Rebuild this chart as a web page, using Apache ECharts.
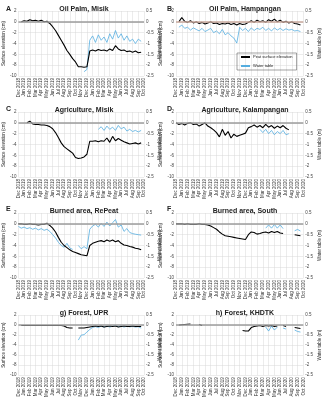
<!DOCTYPE html>
<html>
<head>
<meta charset="utf-8">
<script src="https://cdn.jsdelivr.net/npm/echarts@6/dist/echarts.min.js"></script>
<style>
  html, body { margin: 0; padding: 0; background: #fff; }
  #chart { width: 323px; height: 400px; }
</style>
</head>
<body>
<div id="chart"></div>
<script>
// x labels, one per month
const months = ['Dec 2018', 'Jan 2019', 'Feb 2019', 'Mar 2019', 'Apr 2019', 'May 2019', 'Jun 2019',
  'Jul 2019', 'Aug 2019', 'Sep 2019', 'Oct 2019', 'Nov 2019', 'Dec 2019', 'Jan 2020', 'Feb 2020',
  'Mar 2020', 'Apr 2020', 'May 2020', 'Jun 2020', 'Jul 2020', 'Aug 2020', 'Sep 2020', 'Oct 2020'];

// values sampled every half month from Dec 2018 (index 0) to Oct 2020 (index 44)
// peat surface elevation in cm, water table in m, null = no data
const peatA = [null, 0.0, 0.2, 0.1, 0.4, 0.2, 0.3, 0.1, 0.3, 0.0, 0.1, -0.3, -0.9, -1.6, -2.5, -3.4, -4.3, -5.3, -6.0, -6.8, -7.4, -8.3, -8.3, -8.4, -8.3,
  -5.4, -5.2, -5.4, -5.1, -5.3, -5.2, -5.4, -5.0, -5.3, -4.4, -5.0, -5.3, -5.2, -5.5, -5.4, -5.6, -5.4, -5.7, -5.6, null];
const waterA = [null, null, null, null, null, null, null, null, null, null, null, null, null, null, null, null, null, null, null, null, null, null, null, -2.3, -2.2,
  -0.85, -0.65, -0.95, -0.6, -0.85, -0.7, -0.95, -0.55, -0.8, -0.4, -0.75, -0.55, -0.85, -0.65, -0.9, -0.8, -1.0, -0.8, -0.9, null];

const peatB = [null, 0.0, 0.8, 0.1, -0.1, 0.2, -0.2, 0.0, -0.3, -0.1, -0.4, -0.2, 0.0, -0.3, -0.2, -0.5, -0.3, -0.4, -0.2, -0.5, -0.3, -0.6, -0.3, -0.5, -0.4,
  -0.1, 0.2, -0.1, 0.3, 0.0, 0.2, -0.1, 0.4, 0.1, 0.5, 0.0, 0.3, -0.1, 0.1, -0.2, 0.0, -0.3, -0.4, -0.6, null];
const waterB = [null, -0.25, -0.15, -0.3, -0.25, -0.38, -0.28, -0.35, -0.42, -0.3, -0.45, -0.38, -0.3, -0.5, -0.42, -0.55, -0.35, -0.6, -0.5, -0.65, -0.75, -0.98, -0.25, -0.4, -0.3,
  -0.45, -0.28, -0.4, -0.3, -0.35, -0.25, -0.4, -0.3, -0.42, -0.28, -0.38, -0.3, -0.4, -0.32, -0.38, -0.35, -0.42, -0.4, -0.45, null];

const peatC = [null, null, null, 0.0, 0.3, -0.2, -0.3, -0.3, -0.4, -0.4, -0.5, -0.7, -1.1, -1.8, -2.7, -3.7, -4.4, -4.8, -5.2, -5.6, -6.4, -6.6, -6.5, -6.3, -5.8,
  -3.4, -3.4, -3.3, -3.5, -3.3, -3.4, -2.8, -3.6, -2.5, -3.3, -2.9, -3.2, -3.5, -3.7, -3.9, -3.8, -3.7, -3.9, -3.7, null];
const waterC = [null, null, null, null, null, null, null, null, null, null, null, null, null, null, null, null, null, null, null, null, null, null, null, null, null,
  null, null, null, -0.3, -0.18, -0.35, -0.15, -0.3, -0.2, -0.35, -0.12, -0.28, -0.2, -0.38, -0.3, -0.4, -0.35, -0.42, -0.35, null];

const peatD = [0.0, -0.3, -0.1, -0.4, -0.1, 0.0, -0.3, -0.2, -0.6, -0.3, 0.0, -0.6, -0.9, -1.3, -1.8, -2.6, -1.2, -2.3, -1.6, -2.8, -2.1, -2.5, -2.3, -2.1, -1.9,
  -0.9, -0.7, -0.4, -0.8, -0.5, -0.9, -0.3, -0.8, -0.5, -1.0, -0.6, -0.9, -0.5, -1.0, -1.3, null, null, null, null, null];
const waterD = [null, null, null, null, null, null, null, null, null, null, null, null, null, null, null, null, null, null, null, null, null, null, null, null, null,
  null, null, null, null, -0.3, -0.45, -0.3, -0.5, -0.35, -0.55, -0.4, -0.5, -0.35, -0.55, -0.5, null, null, null, null, null];

const peatE = [0.0, 0.0, -0.1, -0.1, 0.0, -0.1, -0.1, -0.2, -0.1, -0.1, 0.1, -0.3, -0.8, -1.5, -2.5, -3.4, -4.0, -4.4, -4.8, -5.1, -5.3, -5.5, -5.7, -5.8, -5.9,
  -4.0, -3.6, -3.4, -3.2, -3.1, -3.3, -3.0, -3.2, -3.0, -3.3, -3.1, -3.6, -3.9, -4.0, -4.2, -4.3, -4.5, -4.6, -4.8, null];
const waterE = [-0.12, -0.2, -0.15, -0.22, -0.18, -0.25, -0.2, -0.28, -0.22, -0.3, -0.25, -0.35, -0.5, -0.65, -0.85, -1.0, -1.08, -0.9, -1.12, -1.18, null, -1.0, -1.15, -1.05, -1.15,
  -0.25, -0.1, -0.02, -0.15, 0.02, -0.12, 0.08, -0.1, 0.05, 0.2, -0.15, -0.05, -0.35, -0.22, -0.4, -0.45, -0.48, -0.5, -0.52, null];

const peatF = [0.0, 0.0, 0.0, -0.1, 0.0, -0.1, -0.1, -0.1, 0.0, -0.1, -0.1, -0.2, -0.4, -0.7, -1.0, -1.5, -1.9, -2.2, -2.3, -2.4, -2.5, -2.6, -2.7, -2.8, -2.9,
  -2.0, -1.5, -1.6, -1.9, -1.8, -1.6, -1.5, -1.7, -1.4, -1.6, -1.4, -1.7, -1.8, null, null, null, -2.0, -2.1, -2.2, null];
const waterF = [null, null, null, null, null, null, null, null, null, null, null, null, null, null, null, null, null, null, null, null, null, null, null, null, null,
  null, null, null, null, null, null, -0.2, -0.05, -0.2, -0.03, -0.2, -0.05, -0.22, null, null, null, -0.32, -0.26, -0.33, null];

const peatG = [null, -0.1, -0.1, -0.1, -0.1, -0.1, -0.1, -0.1, -0.1, -0.1, -0.1, -0.1, -0.1, -0.1, -0.1, -0.1, -0.2, -0.5, -0.6, -0.6, null, -0.6, -0.6, -0.6, -0.5,
  -0.4, -0.3, -0.2, -0.3, -0.2, -0.4, -0.3, -0.2, -0.3, -0.2, -0.4, -0.3, -0.2, -0.3, -0.3, -0.2, -0.3, -0.3, -0.3, null];
const waterG = [null, null, null, null, null, null, null, null, null, null, null, null, null, null, null, null, null, null, null, null, null, -0.75, -0.5, -0.48, -0.35,
  -0.22, -0.12, -0.08, -0.12, -0.06, -0.1, -0.05, -0.1, -0.06, -0.02, -0.08, -0.05, -0.1, -0.06, -0.09, -0.07, -0.1, -0.08, -0.15, null];

const peatH = [null, 0.0, 0.05, 0.1, 0.15, 0.2, null, null, 0.1, -0.1, null, null, null, null, null, null, null, null, null, null, null, null, null, -1.1, -1.2,
  -1.2, -0.5, -0.3, -0.2, -0.1, -0.3, -0.1, -0.2, -0.1, -0.3, -0.2, null, -0.1, -0.3, null, null, -0.5, -0.6, -0.7, null];
const waterH = [null, null, null, null, null, null, null, null, null, null, null, null, null, null, null, null, null, null, null, null, null, null, null, null, null,
  null, null, null, null, null, null, -0.1, -0.3, -0.05, -0.25, -0.1, null, -0.15, -0.2, null, null, -0.25, -0.32, -0.35, null];

const letters = ['A', 'B', 'C', 'D', 'E', 'F', '', ''];
const titles = ['Oil Palm, Misik', 'Oil Palm, Hampangan', 'Agriculture, Misik', 'Agriculture, Kalampangan',
  'Burned area, RePeat', 'Burned area, South', 'g) Forest, UPR', 'h) Forest, KHDTK'];
const peatSets = [peatA, peatB, peatC, peatD, peatE, peatF, peatG, peatH];
const waterSets = [waterA, waterB, waterC, waterD, waterE, waterF, waterG, waterH];

const STEP = 0.5;
function toPairs(arr) {
  return arr.map(function (v, i) { return [i * STEP, v]; });
}

let chart = echarts.init(document.getElementById('chart'));

const font = 'Liberation Sans, Arial, sans-serif';
const gridColor = '#d9d9d9';
const rowTops = [11, 112, 213, 315];

let grids = [], xAxes = [], yAxes = [], series = [], titleList = [];

titles.forEach(function (t, k) {
  const col = k % 2, row = Math.floor(k / 2);
  const left = col ? 176 : 15;
  const top = rowTops[row];
  grids.push({ left: left, top: top, width: 129, height: 65 });

  titleList.push({
    text: t, left: left + 64, top: top - 10, textAlign: 'center',
    textStyle: { fontSize: 7, fontWeight: 'bold', color: '#222', fontFamily: font }
  });
  if (letters[k]) {
    titleList.push({
      text: letters[k], left: col * 161 + 1, top: row * 100 + 1,
      textStyle: { fontSize: 7, fontWeight: 'bold', color: '#222', fontFamily: font }
    });
  }

  xAxes.push({
    type: 'value', gridIndex: k, min: 0, max: 22, interval: 1,
    axisLine: { show: false }, axisTick: { show: false },
    axisLabel: {
      rotate: 90, fontSize: 4.5, margin: 2, color: '#333', fontFamily: font,
      formatter: function (v) { return months[Math.round(v)]; }
    },
    splitLine: { show: true, lineStyle: { color: gridColor, width: 0.5 } }
  });

  yAxes.push({
    type: 'value', gridIndex: k, position: 'left', min: -10, max: 2, interval: 2,
    name: 'Surface elevation (cm)', nameLocation: 'middle', nameGap: col ? 10.5 : 10,
    nameTextStyle: { fontSize: 4.5, color: '#222', fontFamily: font },
    axisLine: { show: false }, axisTick: { show: false },
    axisLabel: { fontSize: 4.5, margin: 2, color: '#444', fontFamily: font },
    splitLine: { show: true, lineStyle: { color: gridColor, width: 0.5 } }
  });
  yAxes.push({
    type: 'value', gridIndex: k, position: 'right', min: -2.5, max: 0.5, interval: 0.5,
    name: 'Water table (m)', nameLocation: 'middle', nameGap: col ? 11 : 9.5,
    nameTextStyle: { fontSize: 4.5, color: '#222', fontFamily: font },
    axisLine: { show: false }, axisTick: { show: false },
    axisLabel: { fontSize: 4.5, margin: 2, color: '#444', fontFamily: font },
    splitLine: { show: false }
  });

  series.push({
    name: 'Peat surface elevation', type: 'line', xAxisIndex: k, yAxisIndex: 2 * k,
    data: toPairs(peatSets[k]), symbol: 'none', z: 4,
    lineStyle: { color: '#000', width: 1.1 }, itemStyle: { color: '#000' },
    markLine: {
      silent: true, symbol: 'none', label: { show: false }, animation: false,
      lineStyle: { color: k === 1 ? '#c9a89c' : '#9d9d9d', width: 1.5, type: 'solid' },
      data: [{ yAxis: 0 }]
    }
  });
  series.push({
    name: 'Water table', type: 'line', xAxisIndex: k, yAxisIndex: 2 * k + 1,
    data: toPairs(waterSets[k]), symbol: 'none', z: 3,
    lineStyle: { color: '#55addf', width: 0.8 }, itemStyle: { color: '#55addf' }
  });
});

const option = {
  animation: false,
  backgroundColor: '#fff',
  title: titleList,
  legend: {
    data: ['Peat surface elevation', 'Water table'],
    orient: 'vertical', left: 237, top: 53,
    borderColor: '#444', borderWidth: 0.5, padding: [2, 4, 2, 3],
    itemWidth: 9, itemHeight: 2, itemGap: 5,
    textStyle: { fontSize: 4, color: '#222', fontFamily: font, padding: [0, 0, 0, -2] }
  },
  grid: grids,
  xAxis: xAxes,
  yAxis: yAxes,
  series: series
};

chart.setOption(option);
</script>
</body>
</html>
